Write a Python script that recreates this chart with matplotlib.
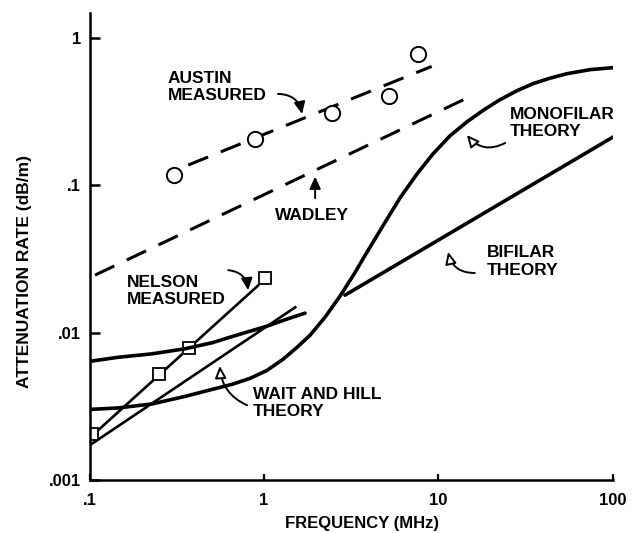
#!/usr/bin/env python

# Attenuation rate vs frequency: measured points and theory curves, log-log.

import numpy as np
import matplotlib
matplotlib.use('Agg')
import matplotlib.pyplot as plt

# ---- data (MHz, dB/m) ----
austin_f = [0.306, 0.887, 2.44, 5.20, 7.66]
austin_a = [0.117, 0.205, 0.308, 0.400, 0.778]
austin_fit_f = [0.368, 9.14]
austin_fit_a = [0.137, 0.638]

wadley_f = [0.1075, 14.8]
wadley_a = [0.0246, 0.393]

nelson_f = [0.103, 0.250, 0.373, 1.01]
nelson_a = [0.00207, 0.00524, 0.00795, 0.0234]
nelson_fit_f = [0.1, 0.924]
nelson_fit_a = [0.00194, 0.0209]

# straight Wait and Hill line
wh_line_f = [0.1, 1.51]
wh_line_a = [0.00173, 0.0149]

# Wait and Hill curve (upper, starting near .0065)
wh_curve_f = [0.1, 0.1456, 0.228, 0.352, 0.504, 0.664, 1.04, 1.355, 1.72]
wh_curve_a = [0.00641, 0.00683, 0.00721, 0.00780, 0.00857, 0.00948, 0.0111, 0.0124, 0.0136]

mono_f = [0.1, 0.1456, 0.228, 0.352, 0.504, 0.656, 0.832, 1.040, 1.285, 1.546,
          1.835, 2.237, 2.726, 3.28, 3.894, 4.873, 6.017, 7.530, 9.30, 11.64,
          14.57, 18.23, 22.51, 28.18, 34.80, 43.55, 54.50, 73.8, 100]
mono_a = [0.00303, 0.00310, 0.00330, 0.00371, 0.00414, 0.00448, 0.00492, 0.00557,
          0.00662, 0.00798, 0.00963, 0.01276, 0.01772, 0.02498, 0.03525, 0.05462,
          0.08199, 0.1193, 0.1631, 0.2161, 0.2690, 0.3244, 0.3795, 0.4367, 0.4873,
          0.5310, 0.5694, 0.6064, 0.6256]

bifilar_f = [2.91, 100]
bifilar_a = [0.0180, 0.212]

yticks = [0.001, 0.01, 0.1, 1]
ytick_labels = ['.001', '.01', '.1', '1']
xticks = [0.1, 1, 10, 100]
xtick_labels = ['.1', '1', '10', '100']


def label(ax, txt, xy_text, xy_tip, xy_tail, rad, filled):
  ax.text(xy_text[0], xy_text[1], txt, transform=ax.transAxes, ha='left', va='top',
          fontsize=12.5, fontweight='bold', linespacing=1.2)
  ax.annotate('', xy=xy_tip, xycoords='axes fraction', xytext=xy_tail,
              textcoords='axes fraction',
              arrowprops=dict(arrowstyle='-|>,head_length=0.6,head_width=0.28',
                              connectionstyle='arc3,rad=%s' % rad,
                              lw=1.4, fc='black' if filled else 'white', ec='black',
                              mutation_scale=12, shrinkA=0, shrinkB=0))


def main():
  plt.rcParams['font.family'] = ['Liberation Sans', 'DejaVu Sans']

  fig = plt.figure(figsize=(6.38, 5.33), dpi=100)
  ax = fig.add_axes([0.1403, 0.0985, 0.8205, 0.877])

  dash = (7, 4.5)
  ax.plot(austin_fit_f, austin_fit_a, color='black', lw=2.2, dashes=dash)
  ax.plot(wadley_f, wadley_a, color='black', lw=2.2, dashes=dash)
  ax.plot(austin_f, austin_a, linestyle='', marker='o', markersize=11,
          markerfacecolor='white', markeredgecolor='black', markeredgewidth=1.4)

  ax.plot(nelson_fit_f, nelson_fit_a, color='black', lw=1.9)
  ax.plot(wh_line_f, wh_line_a, color='black', lw=1.9)
  ax.plot(nelson_f, nelson_a, linestyle='', marker='s', markersize=8.5,
          markerfacecolor='white', markeredgecolor='black', markeredgewidth=1.3)

  ax.plot(wh_curve_f, wh_curve_a, color='black', lw=2.6, solid_capstyle='round')
  ax.plot(mono_f, mono_a, color='black', lw=2.6, solid_capstyle='round',
          solid_joinstyle='round')
  ax.plot(bifilar_f, bifilar_a, color='black', lw=2.6, solid_capstyle='round')

  ax.set_xscale('log')
  ax.set_yscale('log')
  ax.set_xlim(0.1, 100)
  ax.set_ylim(0.001, 1.466)

  ax.set_xticks(xticks)
  ax.set_xticklabels(xtick_labels, fontweight='bold')
  ax.set_yticks(yticks)
  ax.set_yticklabels(ytick_labels, fontweight='bold')
  ax.minorticks_off()
  ax.tick_params(axis='y', direction='in', length=7, width=1.8, pad=6, labelsize=12)
  ax.tick_params(axis='x', direction='in', length=4, width=1.6, pad=9, labelsize=12)

  for s in ['top', 'right']:
    ax.spines[s].set_visible(False)
  for s in ['left', 'bottom']:
    ax.spines[s].set_linewidth(1.8)

  ax.set_xlabel('FREQUENCY (MHz)', fontsize=12, fontweight='bold', va='center')
  ax.xaxis.set_label_coords(0.5205, -0.093)
  ax.set_ylabel('ATTENUATION RATE (dB/m)', fontsize=12.5, fontweight='bold', va='center')
  ax.yaxis.set_label_coords(-0.125, 0.448)

  label(ax, 'AUSTIN\nMEASURED', (0.150, 0.876), (0.406, 0.784), (0.360, 0.827), -0.4, True)
  label(ax, 'WADLEY', (0.355, 0.583), (0.431, 0.650), (0.431, 0.604), 0.0, True)
  label(ax, 'NELSON\nMEASURED', (0.072, 0.440), (0.303, 0.407), (0.265, 0.450), -0.4, True)
  label(ax, 'WAIT AND HILL\nTHEORY', (0.312, 0.200), (0.249, 0.245), (0.301, 0.161), -0.3, False)
  label(ax, 'MONOFILAR\nTHEORY', (0.803, 0.800), (0.721, 0.739), (0.794, 0.722), -0.4, False)
  label(ax, 'BIFILAR\nTHEORY', (0.759, 0.503), (0.685, 0.489), (0.736, 0.444), -0.4, False)

  fig.savefig('out.png', dpi=100)


if __name__ == '__main__':
  main()
